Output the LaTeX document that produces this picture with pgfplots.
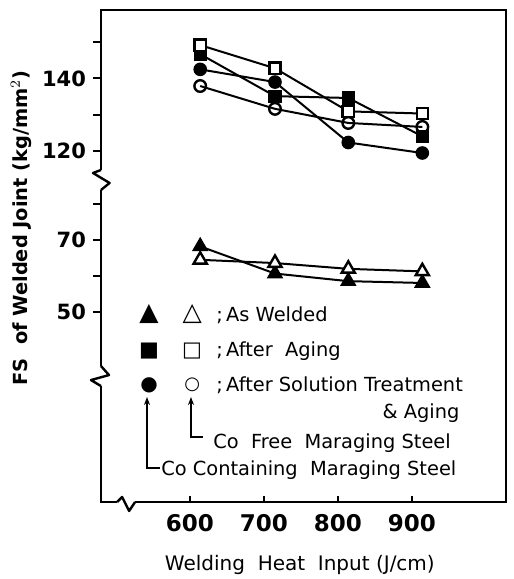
\documentclass[border=0pt]{standalone}
\usepackage{pgfplots}
\pgfplotsset{compat=1.18}
\usepackage{fontspec}
\setmainfont{DejaVu Sans}
\usetikzlibrary{arrows.meta}

\begin{document}
\begin{tikzpicture}
\begin{axis}[
  scale only axis, width=202.5pt, height=246pt,
  xmin=480, xmax=1027, ymin=-2.4, ymax=133.5,
  axis line style={line width=1.2pt},
  xtick={600,700,800,900},
  ytick={50,60,70,80,94.6,104.6,114.6,124.6},
  yticklabels={50,,70,,120,,140,},
  tick pos=left,
  tick align=outside,
  major tick length=4pt,
  ytick style={line width=1pt, black},
  xtick style={draw=none},
  yticklabel style={font=\bfseries\fontsize{10.5}{12}\selectfont},
  xticklabel style={font=\bfseries\fontsize{11.5}{13}\selectfont, yshift=1.5pt},
  /pgf/number format/assume math mode=true,
  clip=false,
  y filter/.expression={y>100 ? y-25.4 : y},
]
% Co containing (filled)
\addplot[black, line width=1pt, mark=*, mark size=2.9pt] coordinates {(614,142.5)(715,139.0)(814,122.3)(914,119.4)};
\addplot[black, line width=1pt, mark=square*, mark size=2.8pt] coordinates {(614,146.7)(715,135.1)(814,134.6)(914,124.0)};
\addplot[black, line width=1pt, mark=triangle*, mark size=3.8pt] coordinates {(614,68.2)(715,60.7)(814,58.6)(914,58.1)};
% Co free (open)
\addplot[black, line width=1pt, mark=o, mark size=2.9pt, mark options={fill=white, line width=1.2pt}] coordinates {(614,137.9)(715,131.6)(814,127.7)(914,126.6)};
\addplot[black, line width=1pt, mark=square*, mark size=2.8pt, mark options={fill=white, line width=1.2pt}] coordinates {(614,149.2)(715,142.8)(814,130.9)(914,130.3)};
\addplot[black, line width=1pt, mark=triangle*, mark size=3.8pt, mark options={fill=white, line width=1.2pt}] coordinates {(614,64.5)(715,63.6)(814,62.0)(914,61.3)};

\coordinate (SW) at (rel axis cs:0,0);
\coordinate (T1) at (rel axis cs:0.21947,0);
\coordinate (T2) at (rel axis cs:0.40219,0);
\coordinate (T3) at (rel axis cs:0.58501,0);
\coordinate (T4) at (rel axis cs:0.76782,0);
\coordinate (B1) at (rel axis cs:0,0.6545);
\coordinate (B2) at (rel axis cs:0,0.256);
\coordinate (B3) at (rel axis cs:0.062,0);

% legend
\begin{scope}[every node/.style={font=\fontsize{9.7}{11}\selectfont, inner sep=0pt}]
\node at (rel axis cs:0.1185,0.382) {\fontsize{12.5}{12}\selectfont ▲};
\node at (rel axis cs:0.225,0.382) {\fontsize{12.5}{12}\selectfont △};
\node at (rel axis cs:0.1185,0.307) {\fontsize{10.5}{12}\selectfont ■};
\node at (rel axis cs:0.225,0.307) {\fontsize{10.5}{12}\selectfont □};
\node at (rel axis cs:0.1185,0.238) {\fontsize{10}{11}\selectfont ●};
\node at (rel axis cs:0.225,0.238) {\fontsize{9}{9}\selectfont ○};
\node[anchor=west] at (rel axis cs:0.284,0.380) {;\,As Welded};
\node[anchor=west] at (rel axis cs:0.284,0.307) {;\,After\ \ Aging};
\node[anchor=west] at (rel axis cs:0.284,0.238) {;\,After Solution Treatment};
\node[anchor=east] at (rel axis cs:0.886,0.181) {\& Aging};
\node[anchor=west] at (rel axis cs:0.2765,0.120) {Co\ \ Free\ \ Maraging Steel};
\node[anchor=west] at (rel axis cs:0.1480,0.065) {Co Containing\ \ Maraging Steel};
\end{scope}
\draw[line width=0.8pt, {Stealth[length=4pt,width=3pt]}-] (rel axis cs:0.1136,0.2134) -- (rel axis cs:0.1136,0.0691) -- (rel axis cs:0.1457,0.0691);
\draw[line width=0.8pt, {Stealth[length=4pt,width=3pt]}-] (rel axis cs:0.2222,0.2134) -- (rel axis cs:0.2222,0.1321) -- (rel axis cs:0.2519,0.1321);

% labels
\node[rotate=90, font=\bfseries\fontsize{9.7}{11}\selectfont] at ([xshift=-40pt]rel axis cs:0,0.557) {FS\ \ of Welded Joint (kg/mm$^{2}$)};
\node[font=\fontsize{10}{12}\selectfont] at ([yshift=-31.5pt]rel axis cs:0.491,0) {Welding\ \ Heat\ \ Input (J/cm)};
\end{axis}

% x ticks (inside)
\foreach \c in {T1,T2,T3,T4} {
  \draw[line width=1pt] (\c) -- ([yshift=3pt]\c);
}

% axis breaks
\fill[white] ([shift={(-1.5pt,-5pt)}]B1) rectangle ([shift={(1.5pt,5pt)}]B1);
\draw[line width=1.2pt, line join=round] ([shift={(0,5pt)}]B1) -- ++(-4pt,-1.5pt) -- ++(8.3pt,-5pt) -- ++(-4.3pt,-3.5pt);
\fill[white] ([shift={(-1.5pt,-5pt)}]B2) rectangle ([shift={(1.5pt,5pt)}]B2);
\draw[line width=1.2pt, line join=round] ([shift={(0,5pt)}]B2) -- ++(4pt,-4.5pt) -- ++(-9pt,-2.5pt) -- ++(5pt,-3pt);
\fill[white] ([shift={(-4.5pt,-1.5pt)}]B3) rectangle ([shift={(4.5pt,1.5pt)}]B3);
\draw[line width=1.2pt, line join=round] ([shift={(-4.5pt,0)}]B3) -- ++(2.5pt,2.5pt) -- ++(3.5pt,-7pt) -- ++(3pt,4.5pt);

\pgfresetboundingbox
\path[use as bounding box] ([shift={(-50.5pt,-38.5pt)}]SW) rectangle ([shift={(206.5pt,251pt)}]SW);
\end{tikzpicture}
\end{document}
